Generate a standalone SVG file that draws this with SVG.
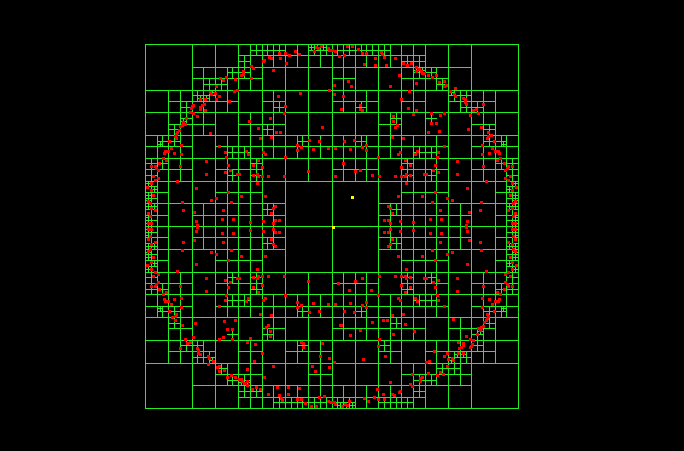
<svg xmlns="http://www.w3.org/2000/svg" xmlns:xlink="http://www.w3.org/1999/xlink" width="684" height="451" viewBox="0 0 684 451">
<style>
.g{fill:none;stroke:#22ee22;stroke-width:1;vector-effect:non-scaling-stroke;shape-rendering:crispEdges}
.d{fill:#ff0000;shape-rendering:crispEdges}
.y{fill:#ffff00;shape-rendering:crispEdges}
</style>
<rect width="684" height="451" fill="#000"/>
<g id="tree" transform="translate(145.5 44.5) scale(11.65625 11.375)">
<path id="l3" class="g" d="M0 0H32V32H0ZM4 0V32M8 0V32M12 0V32M16 0V32M20 0V32M24 0V32M28 0V32M0 4H32M0 8H32M0 12H32M0 16H32M0 20H32M0 24H32M0 28H32"/>
<path id="l4" class="g" d="M2 4V28M6 0V32M10 0V32M14 0V12M14 20V32M18 0V12M18 20V32M22 0V32M26 0V32M30 4V28M4 2H28M0 6H32M0 10H32M0 14H12M20 14H32M0 18H12M20 18H32M0 22H32M0 26H32M4 30H28"/>
<g id="half">
<path id="top5" class="g" d="M8 1H24M9 0v2M11 0v2M13 0v2M15 0v2M17 0v2M19 0v2M21 0v2M23 0v2
M5 2v2M4 3h2M7 2v2M6 3h2M9 2v2M8 3h2M17 2v2M16 3h2M23 2v2M22 3h2M25 2v2M24 3h2
M3 4v2M2 5h2M5 4v2M4 5h2M7 4v2M6 5h2M11 4v2M10 5h2M17 4v2M16 5h2M19 4v2M18 5h2M23 4v2M22 5h2M27 4v2M26 5h2M29 4v2M28 5h2
M3 6v2M2 7h2M5 6v2M4 7h2M9 6v2M8 7h2M11 6v2M10 7h2M21 6v2M20 7h2M29 6v2M28 7h2"/>
<path id="top6" class="g" d="M5.5 3v1M5 3.5h1M7.5 2v1M7 2.5h1M6.5 3v1M6 3.5h1M3.5 5v1M3 5.5h1M4.5 4v1M4 4.5h1M5.5 4v1M5 4.5h1M2.5 7v1M2 7.5h1M3.5 6v1M3 6.5h1
M9.5 0v1M9 .5h1M8.5 1v1M8 1.5h1M10.5 0v1M10 .5h1M11.5 0v1M11 .5h1M8.5 2v1M8 2.5h1M11.5 5v1M11 5.5h1M10.5 7v1M10 7.5h1M14.5 0v1M14 .5h1M15.5 0v1M15 .5h1
M16.5 0v1M16 .5h1M17.5 0v1M17 .5h1M18.5 0v1M18 .5h1M19.5 0v1M19 .5h1M20.5 0v1M20 .5h1M22.5 1v1M22 1.5h1M23.5 1v1M23 1.5h1M23.5 2v1M23 2.5h1M18.5 5v1M18 5.5h1M21.5 6v1M21 6.5h1
M24.5 2v1M24 2.5h1M25.5 3v1M25 3.5h1M26.5 4v1M26 4.5h1M27.5 4v1M27 4.5h1M27.5 5v1M27 5.5h1M24.5 6v1M24 6.5h1M28.5 5v1M28 5.5h1M29.5 7v1M29 7.5h1"/>
<path id="top7" class="g" d="M14.25 0v.5M14 .25h.5M14.75 0v.5M14.5 .25h.5M15.25 0v.5M15 .25h.5M3.25 6.5v.5M3 6.75h.5M4.75 4.5v.5M4.5 4.75h.5M5.25 4.5v.5M5 4.75h.5M5.75 4v.5M5.5 4.25h.5M23.25 2v.5M23 2.25h.5M23.75 2v.5M23.5 2.25h.5M26.25 4v.5M26 4.25h.5"/>
<path id="lm" class="g" d="M1 8v2M0 9h2M3 8v2M2 9h2M7 8v2M6 9h2M9 8v2M8 9h2M11 8v2M10 9h2M13 8v2M12 9h2M15 8v2M14 9h2
M1 10v2M0 11h2M3 10v2M2 11h2M7 10v2M6 11h2M9 10v2M8 11h2
M1 12v2M0 13h2M7 12v2M6 13h2M9 12v2M8 13h2
M1 14v2M0 15h2M5 14v2M4 15h2M7 14v2M6 15h2M9 14v2M8 15h2M11 14v2M10 15h2
M1.5 8v1M1 8.5h1M2.5 8v1M2 8.5h1M0.5 10v1M0 10.5h1M1.5 10v1M1 10.5h1M0.5 11v1M0 11.5h1M7.5 9v1M7 9.5h1M7.5 11v1M7 11.5h1M0.5 12v1M0 12.5h1M0.5 13v1M0 13.5h1M0.5 14v1M0 14.5h1M0.5 15v1M0 15.5h1
M8.5 9v1M8 9.5h1M9.5 10v1M9 10.5h1M9.5 11v1M9 11.5h1M13.5 8v1M13 8.5h1M10.5 14v1M10 14.5h1
M0.25 12v.5M0 12.25h.5M0.75 12.5v.5M0.5 12.75h.5M0.25 13v.5M0 13.25h.5M0.25 13.5v.5M0 13.75h.5M0.25 14v.5M0 14.25h.5M0.75 14v.5M0.5 14.25h.5M0.25 15v.5M0 15.25h.5M0.25 15.5v.5M0 15.75h.5M1.25 8.5v.5M1 8.75h.5"/>
<use xlink:href="#lm" transform="matrix(-1 0 0 1 32 0)"/>
</g>
<use xlink:href="#half" transform="rotate(180 16 16)"/>
<path id="extra" class="g" d="M17 10v2M16 11h2M19 10v2M18 11h2M17 20v2M16 21h2M19 20v2M18 21h2M17 24v2M16 25h2M19 24v2M18 25h2"/>
</g>
<g id="points">
<g id="phalf">
<path class="d" d="M225 76h3v3h-3zM222 79h3v3h-3zM219 77h3v3h-3zM234 78h3v3h-3zM236 89h3v3h-3zM233 90h3v3h-3zM215 85h3v3h-3zM210 93h3v3h-3zM214 92h3v3h-3zM209 91h3v3h-3zM218 95h3v3h-3zM215 98h3v3h-3zM204 98h3v3h-3zM199 98h3v3h-3zM203 103h3v3h-3zM201 104h3v3h-3zM199 106h3v3h-3zM199 108h3v3h-3zM204 109h3v3h-3zM228 100h3v3h-3zM191 105h3v3h-3zM190 107h3v3h-3zM192 104h3v3h-3zM189 111h3v3h-3zM192 112h3v3h-3zM196 115h3v3h-3zM185 117h3v3h-3zM182 121h3v3h-3zM184 123h3v3h-3zM181 124h3v3h-3zM179 125h3v3h-3zM178 129h3v3h-3zM176 131h3v3h-3zM175 133h3v3h-3zM209 132h3v3h-3z
M250 65h3v3h-3zM252 67h3v3h-3zM242 70h3v3h-3zM242 73h3v3h-3zM240 74h3v3h-3zM250 77h3v3h-3zM262 60h3v3h-3zM263 59h3v3h-3zM268 56h3v3h-3zM270 57h3v3h-3zM279 57h3v3h-3zM278 52h3v3h-3zM284 52h3v3h-3zM285 62h3v3h-3zM288 54h3v3h-3zM294 50h3v3h-3zM298 53h3v3h-3zM272 69h3v3h-3zM315 46h3v3h-3zM317 47h3v3h-3zM320 45h3v3h-3zM327 47h3v3h-3zM328 49h3v3h-3zM313 50h3v3h-3zM299 92h3v3h-3zM277 95h3v3h-3zM284 105h3v3h-3zM283 112h3v3h-3zM269 117h3v3h-3zM248 120h3v3h-3zM257 127h3v3h-3zM275 131h3v3h-3zM279 131h3v3h-3zM321 126h3v3h-3zM328 89h3v3h-3z
M331 49h3v3h-3zM334 50h3v3h-3zM338 55h3v3h-3zM343 54h3v3h-3zM346 45h3v3h-3zM351 45h3v3h-3zM357 48h3v3h-3zM361 52h3v3h-3zM365 52h3v3h-3zM374 57h3v3h-3zM381 53h3v3h-3zM383 56h3v3h-3zM380 51h3v3h-3zM394 57h3v3h-3zM402 62h3v3h-3zM406 64h3v3h-3zM410 62h3v3h-3zM415 66h3v3h-3zM418 68h3v3h-3zM420 70h3v3h-3zM421 72h3v3h-3zM415 70h3v3h-3zM363 63h3v3h-3zM374 64h3v3h-3zM385 64h3v3h-3zM398 74h3v3h-3zM415 82h3v3h-3zM389 85h3v3h-3zM408 90h3v3h-3zM333 84h3v3h-3zM347 80h3v3h-3zM350 85h3v3h-3zM333 93h3v3h-3zM342 95h3v3h-3zM340 108h3v3h-3zM359 104h3v3h-3zM359 108h3v3h-3zM361 109h3v3h-3zM400 98h3v3h-3zM407 107h3v3h-3zM415 109h3v3h-3zM412 113h3v3h-3zM392 115h3v3h-3zM392 120h3v3h-3zM396 124h3v3h-3zM394 126h3v3h-3z
M423 72h3v3h-3zM427 74h3v3h-3zM431 76h3v3h-3zM435 74h3v3h-3zM438 81h3v3h-3zM443 80h3v3h-3zM443 85h3v3h-3zM445 84h3v3h-3zM449 90h3v3h-3zM454 87h3v3h-3zM453 93h3v3h-3zM454 95h3v3h-3zM462 97h3v3h-3zM464 98h3v3h-3zM465 103h3v3h-3zM464 101h3v3h-3zM472 109h3v3h-3zM475 108h3v3h-3zM477 112h3v3h-3zM482 103h3v3h-3zM469 114h3v3h-3zM480 126h3v3h-3zM487 131h3v3h-3zM490 134h3v3h-3zM430 112h3v3h-3zM439 114h3v3h-3zM443 112h3v3h-3zM435 122h3v3h-3zM430 122h3v3h-3zM427 131h3v3h-3zM438 130h3v3h-3zM467 128h3v3h-3z"/>
<path id="plm" class="d" d="M174 135h3v3h-3zM175 137h3v3h-3zM168 140h3v3h-3zM180 144h3v3h-3zM170 147h3v3h-3zM167 150h3v3h-3zM164 150h3v3h-3zM163 152h3v3h-3zM173 152h3v3h-3zM180 153h3v3h-3zM162 157h3v3h-3zM165 159h3v3h-3zM158 162h3v3h-3zM157 169h3v3h-3zM154 165h3v3h-3zM155 167h3v3h-3zM150 165h3v3h-3zM152 175h3v3h-3zM154 179h3v3h-3zM157 177h3v3h-3zM150 182h3v3h-3zM179 165h3v3h-3zM176 180h3v3h-3zM150 189h3v3h-3zM152 194h3v3h-3zM147 200h3v3h-3zM149 202h3v3h-3zM150 207h3v3h-3zM154 209h3v3h-3zM149 215h3v3h-3zM150 222h3v3h-3zM147 222h3v3h-3zM146 186h3v3h-3zM147 212h3v3h-3zM181 201h3v3h-3zM182 209h3v3h-3zM193 211h3v3h-3zM195 220h3v3h-3zM196 224h3v3h-3zM195 187h3v3h-3zM205 173h3v3h-3zM205 160h3v3h-3zM218 145h3v3h-3zM224 151h3v3h-3zM225 156h3v3h-3zM227 164h3v3h-3zM224 171h3v3h-3zM229 169h3v3h-3zM236 173h3v3h-3zM215 197h3v3h-3zM210 199h3v3h-3zM227 191h3v3h-3zM230 201h3v3h-3zM222 209h3v3h-3zM221 218h3v3h-3zM232 218h3v3h-3z
M259 137h3v3h-3zM270 136h3v3h-3zM296 144h3v3h-3zM300 146h3v3h-3zM308 139h3v3h-3zM318 140h3v3h-3zM312 148h3v3h-3zM327 147h3v3h-3zM296 149h3v3h-3zM245 150h3v3h-3zM247 153h3v3h-3zM262 151h3v3h-3zM264 153h3v3h-3zM284 156h3v3h-3zM257 159h3v3h-3zM252 164h3v3h-3zM261 166h3v3h-3zM238 173h3v3h-3zM252 174h3v3h-3zM256 173h3v3h-3zM257 175h3v3h-3zM261 175h3v3h-3zM267 175h3v3h-3zM283 175h3v3h-3zM256 182h3v3h-3zM307 170h3v3h-3zM240 195h3v3h-3zM264 195h3v3h-3zM274 205h3v3h-3zM272 207h3v3h-3zM270 212h3v3h-3zM278 219h3v3h-3zM274 219h3v3h-3zM262 220h3v3h-3zM249 221h3v3h-3zM272 222h3v3h-3z"/>
<use xlink:href="#plm" transform="matrix(-1 0 0 1 664 0)"/>
</g>
<use xlink:href="#phalf" transform="rotate(180 332 226.5)"/>
<path class="d" d="M337 282h3v3h-3zM348 289h3v3h-3zM361 277h3v3h-3zM370 289h3v3h-3zM339 324h3v3h-3zM349 334h3v3h-3zM359 329h3v3h-3zM371 321h3v3h-3zM342 162h3v3h-3zM334 175h3v3h-3zM359 169h3v3h-3zM371 174h3v3h-3z"/>
<path class="y" d="M351 196h3v3h-3zM332 226h3v3h-3z"/>
</g>
</svg>
